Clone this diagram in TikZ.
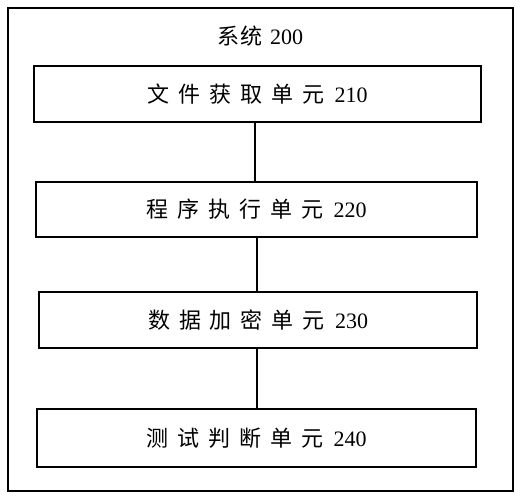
\documentclass[tikz,border=0pt]{standalone}
\usepackage{fontspec}
\setmainfont{Liberation Serif}
\newfontfamily\cjk{Noto Sans CJK SC}
\newcommand\gp{\kern9pt}
\begin{document}
\begin{tikzpicture}[x=1pt,y=-1pt,
  unitbox/.style={draw=black,line width=1.6pt,minimum width=#1,inner sep=0pt,
    font=\fontsize{22}{24}\selectfont},
  conn/.style={draw=black,line width=1.8pt}]
\useasboundingbox[fill=white] (0,0) rectangle (524,500);
\node[draw=black,line width=1.6pt,minimum width=505pt,minimum height=483pt,inner sep=0pt] (sys) at (260.5,249.5) {};
\node[font=\fontsize{22}{24}\selectfont] (title) at (260,36) {{\cjk 系\kern2pt 统}\kern7pt 200};
\node[unitbox=447pt,minimum height=56pt] (b1) at (257.5,94) {{\cjk 文\gp 件\gp 获\gp 取\gp 单\gp 元}\kern10pt 210};
\node[unitbox=441pt,minimum height=55pt] (b2) at (256.5,209.5) {{\cjk 程\gp 序\gp 执\gp 行\gp 单\gp 元}\kern10pt 220};
\node[unitbox=438pt,minimum height=56pt] (b3) at (258,320) {{\cjk 数\gp 据\gp 加\gp 密\gp 单\gp 元}\kern10pt 230};
\node[unitbox=439pt,minimum height=58pt] (b4) at (256.5,438) {{\cjk 测\gp 试\gp 判\gp 断\gp 单\gp 元}\kern10pt 240};
\draw[conn] ([xshift=-2.5pt]b1.south) -- ([xshift=-1.5pt]b2.north);
\draw[conn] ([xshift=0.5pt]b2.south) -- ([xshift=-1pt]b3.north);
\draw[conn] ([xshift=-1pt]b3.south) -- ([xshift=0.5pt]b4.north);
\end{tikzpicture}
\end{document}
